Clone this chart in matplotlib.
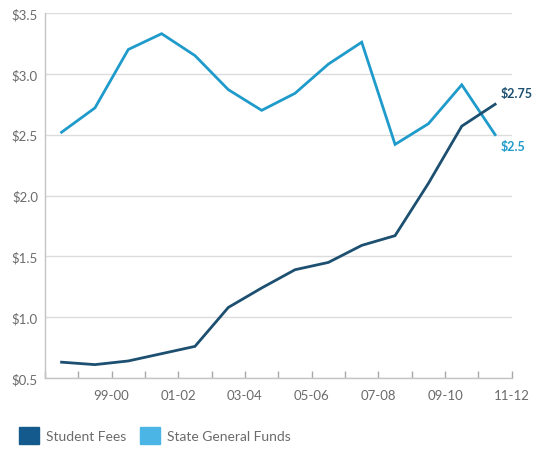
import numpy as np
import matplotlib.pyplot as plt
from matplotlib.patches import Patch

# dollars, per fiscal year
years = ["97-98", "98-99", "99-00", "00-01", "01-02", "02-03", "03-04",
         "04-05", "05-06", "06-07", "07-08", "08-09", "09-10", "10-11"]
student_fees = [0.63, 0.61, 0.64, 0.70, 0.76, 1.08, 1.24,
                1.39, 1.45, 1.59, 1.67, 2.10, 2.57, 2.75]
state_funds = [2.52, 2.72, 3.20, 3.33, 3.15, 2.87, 2.70,
               2.84, 3.08, 3.26, 2.42, 2.59, 2.91, 2.50]
tick_labels = ["99-00", "01-02", "03-04", "05-06", "07-08", "09-10", "11-12"]
y_ticks = [0.5, 1.0, 1.5, 2.0, 2.5, 3.0, 3.5]

dark = "#1c4f70"
light = "#1f9bcb"
legend_dark = "#145a8c"
legend_light = "#4bb6e6"
grey = "#6b6b6b"

plt.rcParams["font.family"] = ["Lato", "DejaVu Sans"]

fig = plt.figure(figsize=(5.41, 4.52), dpi=100)
ax = fig.add_axes([0.083, 0.1615, 0.863, 0.8075])

x = np.arange(len(years)) + 0.5
ax.plot(x, state_funds, color=light, lw=2.0, solid_joinstyle="miter", zorder=3)
ax.plot(x, student_fees, color=dark, lw=2.0, solid_joinstyle="miter", zorder=4)

ax.annotate(f"${student_fees[-1]:g}", (x[-1], student_fees[-1]),
            xytext=(4, 8), textcoords="offset points", color=dark,
            fontsize=9, fontweight="bold", va="center", ha="left")
ax.annotate(f"${state_funds[-1]:g}", (x[-1], state_funds[-1]),
            xytext=(4, -8), textcoords="offset points", color=light,
            fontsize=9, fontweight="bold", va="center", ha="left")

ax.set_xlim(0, len(years))
ax.set_ylim(0.5, 3.5)
ax.set_yticks(y_ticks)
ax.set_yticklabels([f"${v:.1f}" for v in y_ticks], color=grey, fontsize=9.5)
ax.set_xticks(np.arange(2, len(years) + 1, 2))
ax.set_xticklabels(tick_labels, color=grey, fontsize=9.5)
ax.set_xticks(np.arange(len(years) + 1), minor=True)
ax.tick_params(axis="x", which="both", direction="in", length=5,
               width=1, color="#a8a8a8", pad=8)
ax.tick_params(axis="y", length=0, pad=5)

ax.grid(axis="y", color="#dcdcdc", lw=1)
ax.set_axisbelow(True)
for side in ["top", "right"]:
    ax.spines[side].set_visible(False)
for side in ["left", "bottom"]:
    ax.spines[side].set_color("#c4c4c4")
    ax.spines[side].set_linewidth(1)

handles = [Patch(color=legend_dark, label="Student Fees"),
           Patch(color=legend_light, label="State General Funds")]
fig.legend(handles=handles, loc="lower left", bbox_to_anchor=(0.012, -0.012),
           ncol=2, frameon=False, handlelength=1.45, handleheight=1.45,
           handletextpad=0.5, columnspacing=1.0, fontsize=10,
           labelcolor=grey)

fig.savefig("out.png", dpi=100)
